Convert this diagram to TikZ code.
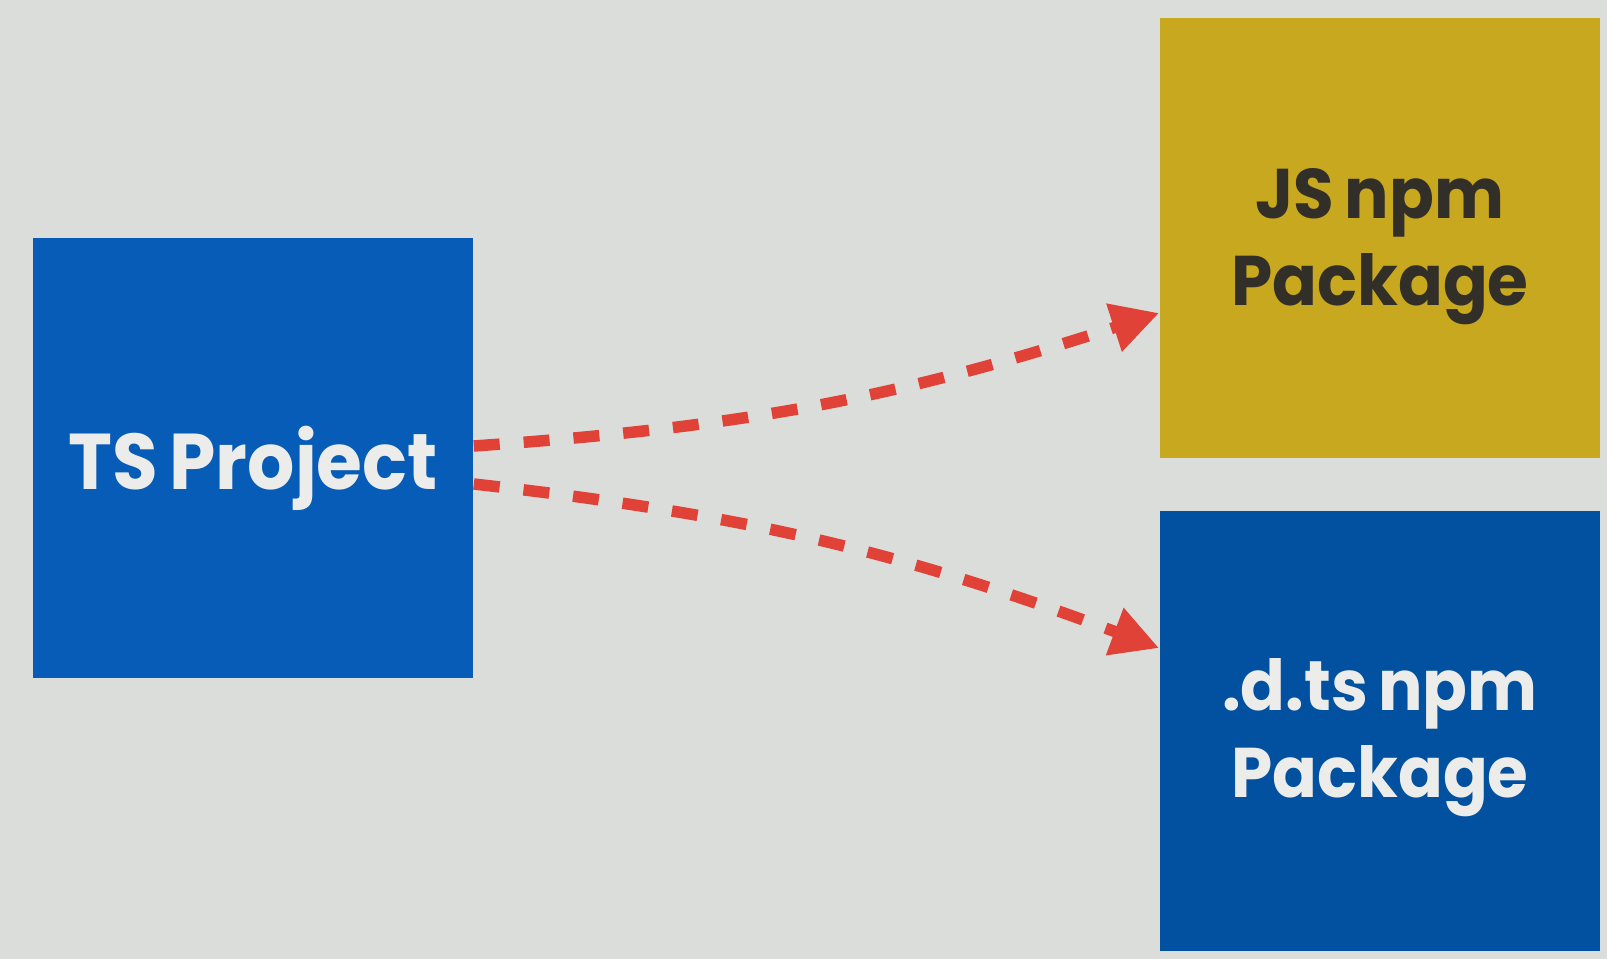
\documentclass[tikz,border=0pt]{standalone}
\usepackage{fontspec}
\setmainfont{Poppins}[FakeStretch=0.94,WordSpace=0.75]
\usetikzlibrary{positioning,arrows.meta}

\definecolor{slidebg}{RGB}{219,221,218}
\definecolor{tsblue}{RGB}{6,92,182}
\definecolor{dtsblue}{RGB}{2,80,160}
\definecolor{jsyellow}{RGB}{200,168,30}
\definecolor{arrowred}{RGB}{224,66,56}
\definecolor{lighttext}{RGB}{236,236,234}
\definecolor{darktext}{RGB}{50,46,40}

\begin{document}
\begin{tikzpicture}[x=0.02cm,y=-0.02cm,
	box/.style={minimum width=8.82cm,minimum height=8.8cm,inner sep=0pt,align=center,text height=87.5pt,font=\bfseries\fontsize{40}{49.5}\selectfont},
	flow/.style={-{Triangle[length=0.95cm,width=0.95cm]},draw=arrowred,line width=0.23cm,dash pattern=on 0.52cm off 0.48cm}]
	\fill[slidebg] (0,0) rectangle (1607,959);
	\node[box,fill=tsblue,text=lighttext,text height=47.5pt,font=\bfseries\fontsize{45}{54}\selectfont] (TSProject) at (253,458) {TS Project};
	\node[box,fill=jsyellow,text=darktext]                  (JSPackage)  at (1380,238) {JS npm\\Package};
	\node[box,fill=dtsblue,text=lighttext,below=1.04cm of JSPackage] (DtsPackage) {.d.ts npm\\Package};

	\draw[flow] ([yshift=0.24cm]TSProject.east)  to[bend right=7] ([yshift=-1.5cm]JSPackage.west);
	\draw[flow] ([yshift=-0.52cm]TSProject.east) to[bend left=7]  ([yshift=1.65cm]DtsPackage.west);
\end{tikzpicture}
\end{document}
